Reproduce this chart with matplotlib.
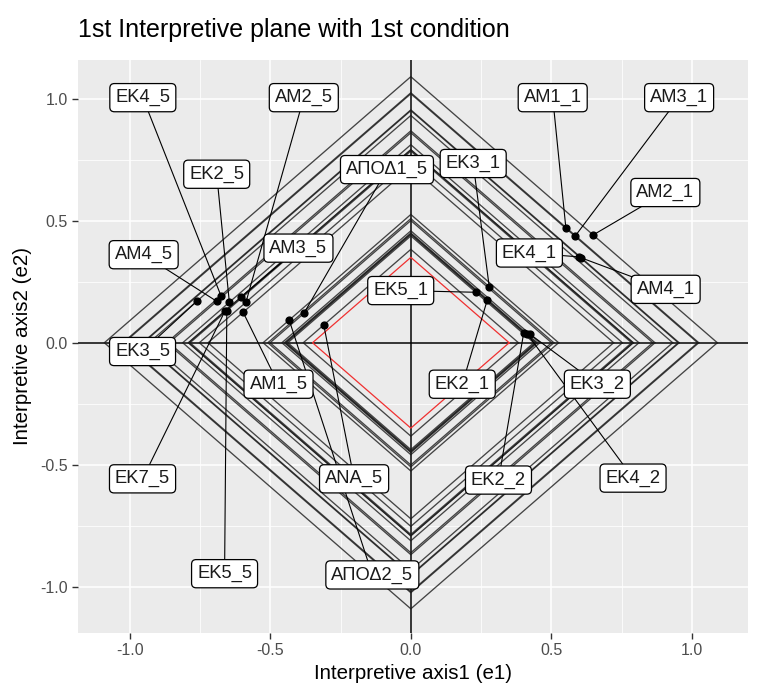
import numpy as np
import matplotlib.pyplot as plt

plt.rcParams['font.family'] = ['Liberation Sans', 'DejaVu Sans']

# Item coordinates on the two interpretive axes
names = ['ΕΚ4_5', 'ΑΜ2_5', 'ΕΚ2_5', 'ΑΜ4_5', 'ΑΜ3_5', 'ΑΠΟΔ1_5', 'ΕΚ3_5', 'ΑΜ1_5',
         'ΕΚ7_5', 'ΕΚ5_5', 'ΑΝΑ_5', 'ΑΠΟΔ2_5',
         'ΑΜ1_1', 'ΑΜ3_1', 'ΑΜ2_1', 'ΕΚ4_1', 'ΑΜ4_1', 'ΕΚ3_1', 'ΕΚ5_1', 'ΕΚ2_1',
         'ΕΚ3_2', 'ΕΚ2_2', 'ΕΚ4_2']
e1 = [-0.676, -0.587, -0.646, -0.691, -0.606, -0.381, -0.760, -0.597,
      -0.662, -0.655, -0.310, -0.433,
      0.552, 0.586, 0.649, 0.600, 0.607, 0.279, 0.231, 0.272,
      0.423, 0.402, 0.415]
e2 = [0.193, 0.166, 0.166, 0.170, 0.186, 0.120, 0.172, 0.125,
      0.129, 0.131, 0.073, 0.093,
      0.469, 0.439, 0.442, 0.352, 0.348, 0.230, 0.207, 0.175,
      0.036, 0.042, 0.035]

# Label positions (repelled)
lab_x = [-0.954, -0.381, -0.691, -0.951, -0.400, -0.085, -0.955, -0.471,
         -0.955, -0.663, -0.202, -0.137,
         0.505, 0.955, 0.906, 0.422, 0.907, 0.222, -0.036, 0.183,
         0.664, 0.312, 0.791]
lab_y = [1.005, 1.005, 0.691, 0.361, 0.388, 0.710, -0.036, -0.170,
         -0.558, -0.947, -0.558, -0.952,
         1.005, 1.005, 0.616, 0.368, 0.219, 0.735, 0.214, -0.170,
         -0.170, -0.563, -0.555]

threshold = 0.35

fig = plt.figure(figsize=(7.64, 6.88), dpi=100)
ax = fig.add_axes([0.102, 0.080, 0.877, 0.833])
ax.set_facecolor('#EBEBEB')

# ggplot-like grid
for v in np.arange(-1.25, 1.26, 0.25):
    major = abs(v * 2 - round(v * 2)) < 1e-9
    lw = 1.1 if major else 0.55
    ax.axvline(v, color='white', lw=lw, zorder=0)
    ax.axhline(v, color='white', lw=lw, zorder=0)

ax.axhline(0, color='black', lw=1.1, zorder=1)
ax.axvline(0, color='black', lw=1.1, zorder=1)

def diamond(r):
    return [r, 0, -r, 0, r], [0, r, 0, -r, 0]

# iso-distance diamonds through every item
for x, y in zip(e1, e2):
    r = abs(x) + abs(y)
    dx, dy = diamond(r)
    ax.plot(dx, dy, color='#1a1a1a', lw=0.95, alpha=0.8, zorder=2)

dx, dy = diamond(threshold)
ax.plot(dx, dy, color='#F03030', lw=0.9, zorder=2)

ax.scatter(e1, e2, s=24, color='black', zorder=3)

# leader segments first, labels on top
for x, y, lx, ly in zip(e1, e2, lab_x, lab_y):
    ax.plot([lx, x], [ly, y], color='black', lw=0.8, zorder=4)
for n, lx, ly in zip(names, lab_x, lab_y):
    ax.text(lx, ly, n, ha='center', va='center', fontsize=13.2, color='#1a1a1a', zorder=5,
            bbox=dict(boxstyle='round,pad=0.3,rounding_size=0.25', fc='white', ec='black', lw=0.9))

ax.set_xlim(-1.185, 1.2)
ax.set_ylim(-1.19, 1.16)
ax.set_xticks([-1.0, -0.5, 0.0, 0.5, 1.0])
ax.set_yticks([-1.0, -0.5, 0.0, 0.5, 1.0])
ax.set_xticklabels(['-1.0', '-0.5', '0.0', '0.5', '1.0'])
ax.set_yticklabels(['-1.0', '-0.5', '0.0', '0.5', '1.0'])
ax.tick_params(colors='#333333', labelcolor='#4D4D4D', labelsize=11.5, length=4, width=1)
for s in ax.spines.values():
    s.set_visible(False)

ax.set_xlabel('Interpretive axis1 (e1)', fontsize=14.8, labelpad=4)
ax.set_ylabel('Interpretive axis2 (e2)', fontsize=14.8, labelpad=6)
fig.text(0.102, 1 - 30 / 688, '1st Interpretive plane with 1st condition',
         fontsize=18, ha='left', va='center')

fig.savefig('out.png', dpi=100)
